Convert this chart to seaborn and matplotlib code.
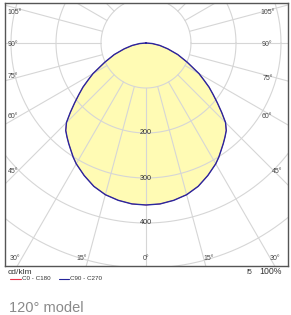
# plot.py
# Polar luminous intensity diagram (cd/klm) for the 120 degree model
import numpy as np
import matplotlib
matplotlib.use("Agg")
import matplotlib.pyplot as plt
import seaborn as sns
import pandas as pd

# Intensity, half curve (0 = nadir), symmetric both sides
angles = [0, 5, 10, 15, 20, 25, 30, 32.5, 35, 37.5, 40, 42.5, 45, 47.5, 50,
          52.5, 55, 57.5, 60, 65, 70, 75, 80, 85, 90]
c0_c180 = [360, 359, 355, 349, 339, 325, 310, 301, 291, 282, 273, 264, 250, 228, 207,
           188, 171, 152, 136, 101, 75, 50, 31, 14, 0]
c90_c270 = [360, 359, 355, 349, 339, 325, 310, 301, 291, 282, 273, 264, 250, 228, 207,
            188, 171, 152, 136, 101, 75, 50, 31, 14, 0]

rings = [100, 200, 300, 400, 500, 600, 700]
ring_labels = [200, 300, 400]
spokes = list(range(-180, 181, 15))

W, H = 291, 315
sns.set_style("white")
plt.rcParams['font.family'] = ['Liberation Sans', 'DejaVu Sans']


def curve_frame(vals, name):
    # mirror the half curve and turn it into x/y (cd, nadir pointing down)
    a = np.array([-x for x in angles[::-1]] + angles[1:], dtype=float)
    v = np.array(vals[::-1] + vals[1:], dtype=float)
    t = np.radians(a)
    return pd.DataFrame({"x": v * np.sin(t), "y": -v * np.cos(t), "series": name})


fig = plt.figure(figsize=(W / 100, H / 100), dpi=100)
# axes box in pixels: left 4.5, right 288, top 3, bottom 266; centre at (146, 43), 0.45 px per cd
ax = fig.add_axes([4.5 / W, 1 - 266 / H, 283.5 / W, 263 / H])
px = 0.45
ax.set_xlim(-(146 - 4.5) / px, (288 - 146) / px)
ax.set_ylim(-(266 - 43) / px, (43 - 3) / px)
ax.set_aspect("equal", adjustable="box")

grid_col = "#d6d6d6"
th = np.linspace(0, 2 * np.pi, 400)
for r in rings:
    ax.plot(r * np.cos(th), r * np.sin(th), color=grid_col, lw=0.8, zorder=1)
for s in spokes:
    t = np.radians(s)
    ax.plot([100 * np.sin(t), 900 * np.sin(t)], [-100 * np.cos(t), -900 * np.cos(t)],
            color=grid_col, lw=0.8, zorder=1)

red = curve_frame(c0_c180, "C0 - C180")
blue = curve_frame(c90_c270, "C90 - C270")
ax.fill(blue["x"], blue["y"], color="#fffbb4", zorder=0.5, lw=0)
sns.lineplot(data=red, x="x", y="y", sort=False, estimator=None, color="#e8334a", lw=0.5, ax=ax, zorder=3)
sns.lineplot(data=blue, x="x", y="y", sort=False, estimator=None, color="#2828a0", lw=1, ax=ax, zorder=4)

ax.set_xticks([])
ax.set_yticks([])
ax.set_xlabel("")
ax.set_ylabel("")
for sp in ax.spines.values():
    sp.set_color("#555555")
    sp.set_linewidth(1)

for val in ring_labels:
    ax.text(0, -val, str(val), ha="center", va="center", fontsize=5.2, color="#333333", zorder=5)


def ptext(x, y, s, **kw):
    fig.text(x / W, 1 - y / H, s, **kw)


angle_labels = [
    ("105°", 15, 13), ("90°", 13, 44), ("75°", 13, 77), ("60°", 13, 117), ("45°", 13, 172),
    ("30°", 15, 258), ("15°", 82, 258), ("0°", 146, 258), ("15°", 209, 258), ("30°", 275, 258),
    ("45°", 277, 172), ("60°", 267, 117), ("75°", 268, 78), ("90°", 267, 44), ("105°", 268, 13),
]
for s, x, y in angle_labels:
    ptext(x, y, s, ha="center", va="center", fontsize=5, color="#444444")

# footer
ptext(8, 272, "cd/klm", ha="left", va="center", fontsize=6, color="#333333")
fig.add_artist(plt.Line2D([10 / W, 21 / W], [1 - 279 / H] * 2, color="#e8334a", lw=0.8))
ptext(22, 279, "C0 - C180", ha="left", va="center", fontsize=4.5, color="#333333")
fig.add_artist(plt.Line2D([59 / W, 69 / W], [1 - 279 / H] * 2, color="#24249a", lw=0.8))
ptext(70, 279, "C90 - C270", ha="left", va="center", fontsize=4.5, color="#333333")
ptext(249, 272, "I5", ha="center", va="center", fontsize=5, color="#333333")
ptext(282, 272, "100%", ha="right", va="center", fontsize=6.3, color="#333333")
ptext(9, 308, "120° model", ha="left", va="center", fontsize=10.5, color="#8a8a8a")

fig.savefig("out.png", dpi=100)
